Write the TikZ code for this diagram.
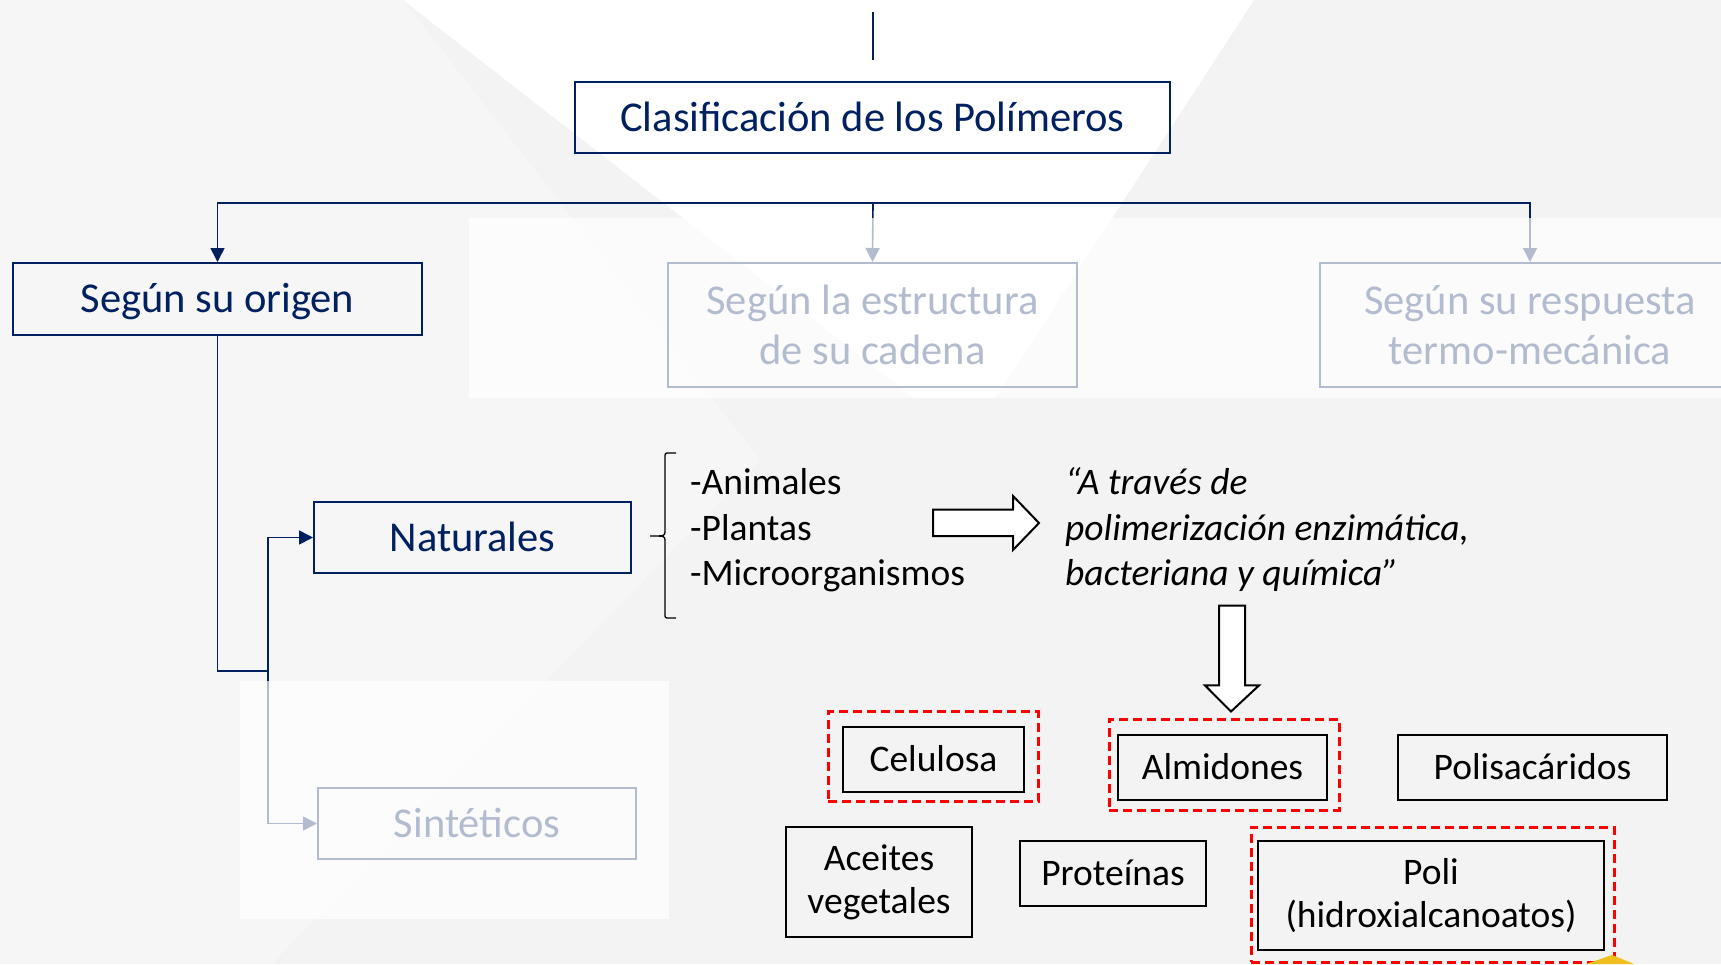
\documentclass[tikz,border=0pt]{standalone}
\usepackage{fontspec}
\setmainfont{Carlito}
\usetikzlibrary{arrows.meta}
\definecolor{navy}{RGB}{0,32,96}
\definecolor{bggray}{RGB}{243,243,243}
\definecolor{bglight}{RGB}{246,246,246}
\definecolor{dashred}{RGB}{255,0,0}
\definecolor{gold}{RGB}{240,190,30}
\newcommand{\headf}{\fontsize{42.5}{50}\selectfont}
\newcommand{\itemf}{\fontsize{37.5}{43}\selectfont}
\tikzset{
  navybox/.style={draw=navy,line width=2pt,text=navy,font=\headf,inner sep=0pt,align=center},
  blackbox/.style={draw=black,line width=2pt,font=\itemf,inner sep=0pt,align=center},
  headline/.style={text height=27pt,text depth=0pt},
  itemline/.style={text height=24pt,text depth=0pt},
  redbox/.style={draw=dashred,line width=3pt,dash pattern=on 9pt off 5pt},
  link/.style={draw=navy,line width=1.6pt},
  tip/.style={-{Triangle[width=14pt,length=14pt]}},
  fadeveil/.style={fill=white,fill opacity=0.7,draw=none},
  bigarrow/.style={draw=black,fill=white,line width=2pt,line join=miter},
  listtext/.style={font=\itemf,anchor=base west,inner sep=0pt}
}

\begin{document}
\begin{tikzpicture}[x=1pt,y=-1pt]
  % background facets
  \fill[bggray] (0,0) rectangle (1721,964);
  \fill[bglight] (0,0) -- (403,0) -- (760,460) -- (272,964) -- (0,964) -- cycle;
  \fill[white] (403,0) -- (1254,0) -- (995,398) -- (914,398) -- cycle;
  \useasboundingbox (0,0) rectangle (1721,964);

  % first level
  \node[navybox,headline,minimum width=595pt,minimum height=71pt] (title) at (872.5,117.5) {Clasificación de los Polímeros};
  \node[navybox,headline,minimum width=409pt,minimum height=72pt] (origen) at (217.5,299) {Según su origen};
  \node[navybox,minimum width=409pt,minimum height=124pt] (estructura) at (872.5,325) {Según la estructura\\de su cadena};
  \node[navybox,minimum width=420pt,minimum height=124pt] (respuesta) at (1530,325) {Según su respuesta\\termo-mecánica};

  % second level
  \node[navybox,headline,minimum width=317pt,minimum height=71pt] (naturales) at (472.5,537.5) {Naturales};
  \node[navybox,headline,minimum width=318pt,minimum height=71pt] (sinteticos) at (477,823.5) {Sintéticos};

  % connectors
  \coordinate (topa) at (873,12);
  \coordinate (topb) at (873,60);
  \draw[link,line width=1.3pt] (topa) -- (topb);
  \coordinate (hub) at (873,203);
  \draw[link,tip] (hub) -| (origen.north);
  \draw[link,tip] (hub) -- (estructura.north);
  \draw[link,tip] (hub) -| (respuesta.north);
  \coordinate (split) at (268,671);
  \draw[link] (origen.south) |- (split);
  \draw[link,tip] (split) |- (naturales.west);
  \draw[link,tip] (split) |- (sinteticos.west);

  % faded parts
  \fill[fadeveil] (469,218) rectangle (1721,398);
  \fill[fadeveil] (240,681) rectangle (669,919);

  % brace and sources
  \draw[line width=1.3pt] (676,453) -- (669,453) .. controls (665,453) .. (665,458)
    -- (665,531) .. controls (665,536) .. (650,536)
    .. controls (665,536) .. (665,541) -- (665,613)
    .. controls (665,618) .. (669,618) -- (676,618);
  \node[listtext] (animales) at (690,494.6) {-Animales};
  \node[listtext] (plantas) at (690,540) {-Plantas};
  \node[listtext] (micro) at (690,585) {-Microorganismos};

  \node[listtext,font=\itemf\itshape] (via1) at (1065,494.6) {“A través de};
  \node[listtext,font=\itemf\itshape] (via2) at (1065,540) {polimerización enzimática,};
  \node[listtext,font=\itemf\itshape] (via3) at (1065,585) {bacteriana y química”};

  % block arrows
  \draw[bigarrow] (933,509.5) -- (1013,509.5) -- (1013,496) -- (1039,523)
    -- (1013,550) -- (1013,536) -- (933,536) -- cycle;
  \draw[bigarrow] (1219,605.6) -- (1245,605.6) -- (1245,685.4) -- (1259,685.4)
    -- (1231,711.5) -- (1205,685.4) -- (1219,685.4) -- cycle;

  % products
  \node[redbox,minimum width=210pt,minimum height=90pt] (celulosaF) at (933,756.75) {};
  \node[blackbox,itemline,minimum width=181pt,minimum height=65pt] (celulosa) at (933.5,759.5) {Celulosa};
  \node[redbox,minimum width=230pt,minimum height=91pt] (almidonesF) at (1224,764.5) {};
  \node[blackbox,itemline,minimum width=209pt,minimum height=65pt] (almidones) at (1222.5,767.5) {Almidones};
  \node[blackbox,itemline,minimum width=269pt,minimum height=65pt] (polisac) at (1532.5,767.5) {Polisacáridos};
  \node[blackbox,minimum width=186pt,minimum height=110pt] (aceites) at (879,882) {Aceites\\vegetales};
  \node[blackbox,itemline,minimum width=186pt,minimum height=65pt] (proteinas) at (1113,873.5) {Proteínas};
  \node[redbox,minimum width=363pt,minimum height=135pt] (poliF) at (1432.5,894.5) {};
  \node[blackbox,minimum width=346pt,minimum height=109pt] (poli) at (1431,895.5) {Poli\\(hidroxialcanoatos)};

  \fill[gold] (1586,964) -- (1612,955) -- (1634,964) -- cycle;
\end{tikzpicture}
\end{document}
